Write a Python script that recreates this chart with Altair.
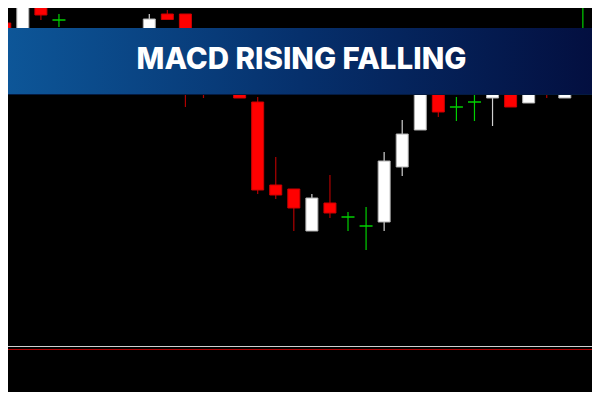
import altair as alt
import pandas as pd

# ---- data (price units) ----
idx = list(range(33))
opens  = [377, 360, 403, 380, 365, 338, 352, 326, 340, 386, 386, 338, 324, 314, 298, 215, 211,
          169, 197, 183, 174, 178, 233, 270, 316, 293, 298, 302, 312, 297, 328, 302, 350]
closes = [360, 402, 385, 380, 350, 355, 330, 344, 381, 380.5, 316, 318, 312, 302, 210, 205, 192,
          202, 187, 183, 174, 239, 266, 330, 288, 293, 298, 308, 293, 312, 314, 314, 350]
highs  = [378, 408, 406, 386, 370, 360, 356, 350, 386, 390, 386, 344, 328, 318, 303, 243, 211,
          206, 225, 188, 193, 248, 280, 336, 322, 303, 310, 312, 316, 316, 334, 320, 395]
lows   = [355, 355, 380, 373, 345, 334, 324, 320, 334, 380.5, 293, 302, 307, 302, 206, 201, 169,
          169, 182, 169, 150, 169, 224, 270, 283, 279, 279, 274, 293, 297, 302, 302, 328]
sep_levels = [53.5, 50.5]
sep_names = ["upper", "lower"]
title_text = "MACD RISING FALLING"

W, H = 584, 384

df = pd.DataFrame({"i": idx, "open": opens, "close": closes, "high": highs, "low": lows})
df["kind"] = ["doji" if c == o else ("up" if c > o else "down") for o, c in zip(opens, closes)]

xs = alt.Scale(domain=[0.456, 32.229], nice=False, zero=False)
ys = alt.Scale(domain=[8, 392], nice=False, zero=False)

base = alt.Chart(df)

wicks = base.mark_rule(strokeWidth=1.2, clip=True).encode(
    x=alt.X("i:Q", scale=xs, axis=None),
    y=alt.Y("low:Q", scale=ys, axis=None),
    y2="high:Q",
    color=alt.Color("kind:N", legend=None,
                    scale=alt.Scale(domain=["up", "down", "doji"],
                                    range=["#d0d0d0", "#b00000", "#00d000"])),
)

bodies = base.transform_filter(alt.datum.kind != "doji").mark_bar(size=12, strokeWidth=1, clip=True).encode(
    x=alt.X("i:Q", scale=xs, axis=None),
    y=alt.Y("open:Q", scale=ys, axis=None),
    y2="close:Q",
    fill=alt.Fill("kind:N", legend=None,
                  scale=alt.Scale(domain=["up", "down"], range=["#ffffff", "#ff0000"])),
    stroke=alt.Stroke("kind:N", legend=None,
                      scale=alt.Scale(domain=["up", "down"], range=["#b0b0b0", "#cc0000"])),
)

dojis = base.transform_filter(alt.datum.kind == "doji").mark_tick(
    orient="horizontal", size=13, thickness=1.5, color="#00d000", clip=True, opacity=1
).encode(
    x=alt.X("i:Q", scale=xs, axis=None),
    y=alt.Y("open:Q", scale=ys, axis=None),
)

sep_df = pd.DataFrame({"level": sep_levels, "name": sep_names})
seps = alt.Chart(sep_df).mark_rule(strokeWidth=1).encode(
    y=alt.Y("level:Q", scale=ys, axis=None),
    color=alt.Color("name:N", legend=None,
                    scale=alt.Scale(domain=["upper", "lower"], range=["#b4b4b4", "#f4f4f4"])),
)

banner_df = pd.DataFrame({"t": [title_text]})
banner = alt.Chart(banner_df).mark_rect(
    color=alt.Gradient(
        gradient="linear",
        stops=[alt.GradientStop(color="#0d5698", offset=0),
               alt.GradientStop(color="#06306c", offset=0.5),
               alt.GradientStop(color="#030f40", offset=1)],
        x1=0, x2=1, y1=0, y2=0,
    )
).encode(x=alt.value(0), x2=alt.value(W), y=alt.value(20), y2=alt.value(87))

banner_edge = alt.Chart(banner_df).mark_rule(color="#041a40", strokeWidth=1).encode(
    x=alt.value(0), x2=alt.value(W), y=alt.value(86.5)
)

title = alt.Chart(banner_df).mark_text(
    font="Inter", fontWeight=800, fontSize=29.5, color="#ffffff",
    align="center", baseline="alphabetic"
).encode(text="t:N", x=alt.value(293.5), y=alt.value(61))

chart = alt.layer(wicks, bodies, dojis, seps, banner, banner_edge, title).properties(
    width=W, height=H, padding=0, autosize=alt.AutoSizeParams(type="none"),
    background="#000000"
).configure_view(stroke=None)

chart.save("out.html", embed_options={"renderer": "svg", "actions": False})
